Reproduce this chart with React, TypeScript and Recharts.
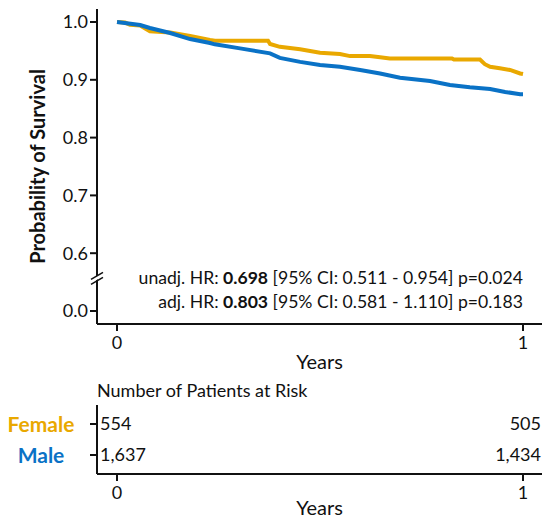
import React from 'react';
import {
  LineChart, Line, XAxis, YAxis, ReferenceDot, ScatterChart, Scatter, Customized,
} from 'recharts';

// ---- Survival data ----
const femaleTimes = [0, 0.02, 0.032, 0.057, 0.081, 0.131, 0.18, 0.229, 0.241, 0.372, 0.377, 0.401, 0.451, 0.5, 0.549, 0.574, 0.623, 0.648, 0.672, 0.825, 0.83, 0.894, 0.906, 0.919, 0.943, 0.968, 0.993, 1.0];
const femaleSurv = [1.0, 0.999, 0.995, 0.994, 0.984, 0.982, 0.976, 0.969, 0.9676, 0.9676, 0.962, 0.957, 0.953, 0.947, 0.9445, 0.941, 0.941, 0.939, 0.937, 0.937, 0.935, 0.935, 0.927, 0.9225, 0.92, 0.917, 0.911, 0.91];
const maleTimes = [0, 0.057, 0.081, 0.131, 0.18, 0.229, 0.241, 0.303, 0.377, 0.401, 0.451, 0.5, 0.549, 0.599, 0.648, 0.697, 0.771, 0.82, 0.869, 0.919, 0.956, 0.993, 1.0];
const maleSurv = [1.0, 0.9948, 0.9896, 0.981, 0.9705, 0.9636, 0.9614, 0.9544, 0.9458, 0.938, 0.931, 0.9255, 0.9225, 0.917, 0.911, 0.9035, 0.898, 0.891, 0.887, 0.884, 0.879, 0.875, 0.875];

// Y ticks: 0.5 stands in for the broken-axis "0.0"
const yTicks = [0.5, 0.6, 0.7, 0.8, 0.9, 1.0];
const xTicks = [0, 1];

// ---- Risk table ----
const riskGroups = ['Female', 'Male'];
const riskTimes = [0, 1];
const femaleRisk = [554, 505];
const maleRisk = [1637, 1434];

const FEMALE = '#E9A800';
const MALE = '#0A72C6';
const FONT = 'Lato, "Open Sans", sans-serif';
const AXIS = '#111';

const femaleData = femaleTimes.map((t, i) => ({ t, s: femaleSurv[i] }));
const maleData = maleTimes.map((t, i) => ({ t, s: maleSurv[i] }));

const groupColor: Record<string, string> = { Female: FEMALE, Male: MALE };
const groupRow: Record<string, number> = { Female: 2, Male: 1 };
const riskData = [
  ...riskTimes.map((t, i) => ({ t, row: groupRow[riskGroups[0]], n: femaleRisk[i] })),
  ...riskTimes.map((t, i) => ({ t, row: groupRow[riskGroups[1]], n: maleRisk[i] })),
];

const X_DOMAIN: [number, number] = [-0.0493, 1.0468];
const Y_DOMAIN: [number, number] = [0.4775, 1.0225];

const BreakMark = (props: any) => {
  const { cx, cy } = props;
  if (cx == null || cy == null) return null;
  return (
    <g>
      <polygon points={`${cx - 6},${cy + 5} ${cx + 6},${cy - 2} ${cx + 6},${cy - 6} ${cx - 6},${cy + 1}`} fill="#fff" />
      <line x1={cx - 6} y1={cy + 6} x2={cx + 6} y2={cy - 1} stroke={AXIS} strokeWidth={1.6} />
      <line x1={cx - 6} y1={cy + 1} x2={cx + 6} y2={cy - 6} stroke={AXIS} strokeWidth={1.6} />
    </g>
  );
};

const HRText = (props: any) => {
  const { cx, cy } = props;
  if (cx == null || cy == null) return null;
  return (
    <g fontFamily={FONT} fontSize={17.6} fill="#111">
      <text x={cx} y={cy - 27} textAnchor="end">
        unadj. HR: <tspan fontWeight="bold">0.698</tspan> [95% CI: 0.511 - 0.954] p=0.024
      </text>
      <text x={cx} y={cy - 3} textAnchor="end">
        adj. HR: <tspan fontWeight="bold">0.803</tspan> [95% CI: 0.581 - 1.110] p=0.183
      </text>
    </g>
  );
};

const RiskCell = (props: any) => {
  const { cx, cy, payload } = props;
  if (cx == null || cy == null) return null;
  const start = payload.t === 0;
  return (
    <text
      x={start ? cx - 17 : cx + 18}
      y={cy}
      dy="0.36em"
      textAnchor={start ? 'start' : 'end'}
      fontFamily={FONT}
      fontSize={18}
      fill="#111"
    >
      {payload.n.toLocaleString('en-US')}
    </text>
  );
};

const GroupTick = (props: any) => {
  const { y, payload } = props;
  const name = payload.value === 2 ? 'Female' : 'Male';
  return (
    <text x={41} y={y} dy="0.36em" textAnchor="middle" fontFamily={FONT} fontWeight="bold" fontSize={21} fill={groupColor[name]}>
      {name}
    </text>
  );
};

const tickStyle = { fontFamily: FONT, fontSize: 18, fill: '#111' };

export default function App() {
  return (
    <div style={{ position: 'absolute', left: 0, top: 0, width: 545, height: 519, background: '#fff' }}>
      <LineChart width={545} height={375} margin={{ top: 9, right: 3, left: 0, bottom: 0 }}>
        <XAxis
          type="number"
          dataKey="t"
          domain={X_DOMAIN}
          ticks={xTicks}
          allowDataOverflow
          height={51}
          tickSize={7}
          tickMargin={5}
          tick={tickStyle}
          stroke={AXIS}
          strokeWidth={2}
          label={{ value: 'Years', position: 'insideBottom', offset: 6, style: { fontFamily: FONT, fontSize: 20, fill: '#111' } }}
        />
        <YAxis
          type="number"
          dataKey="s"
          domain={Y_DOMAIN}
          ticks={yTicks}
          allowDataOverflow
          width={97}
          tickSize={7}
          tickMargin={2}
          tick={tickStyle}
          tickFormatter={(v: number) => (v === 0.5 ? '0.0' : v.toFixed(1))}
          stroke={AXIS}
          strokeWidth={2}
          label={{
            value: 'Probability of Survival',
            angle: -90,
            position: 'insideLeft',
            offset: 38,
            style: { fontFamily: FONT, fontSize: 20, fontWeight: 'bold', fill: '#111', textAnchor: 'middle' },
          }}
        />
        <Line data={femaleData} dataKey="s" type="linear" stroke={FEMALE} strokeWidth={4} dot={false} isAnimationActive={false} />
        <Line data={maleData} dataKey="s" type="linear" stroke={MALE} strokeWidth={4} dot={false} isAnimationActive={false} />
        <ReferenceDot x={X_DOMAIN[0]} y={0.5565} ifOverflow="visible" shape={BreakMark} />
        <ReferenceDot x={1} y={0.5} ifOverflow="visible" shape={HRText} />
      </LineChart>
      <ScatterChart width={545} height={144} margin={{ top: 30, right: 3, left: 0, bottom: 0 }}>
        <XAxis
          type="number"
          dataKey="t"
          domain={X_DOMAIN}
          ticks={xTicks}
          allowDataOverflow
          height={45}
          tickSize={7}
          tickMargin={5}
          tick={tickStyle}
          stroke={AXIS}
          strokeWidth={2}
          label={{ value: 'Years', position: 'insideBottom', offset: 4, style: { fontFamily: FONT, fontSize: 20, fill: '#111' } }}
        />
        <YAxis
          type="number"
          dataKey="row"
          domain={[0.387, 2.613]}
          ticks={[1, 2]}
          width={97}
          tickSize={7}
          tick={<GroupTick />}
          stroke={AXIS}
          strokeWidth={2}
        />
        <Scatter data={riskData} shape={RiskCell} isAnimationActive={false} />
        <Customized
          component={() => (
            <text x={97} y={22} fontFamily={FONT} fontSize={18} fill="#111">
              Number of Patients at Risk
            </text>
          )}
        />
      </ScatterChart>
    </div>
  );
}
